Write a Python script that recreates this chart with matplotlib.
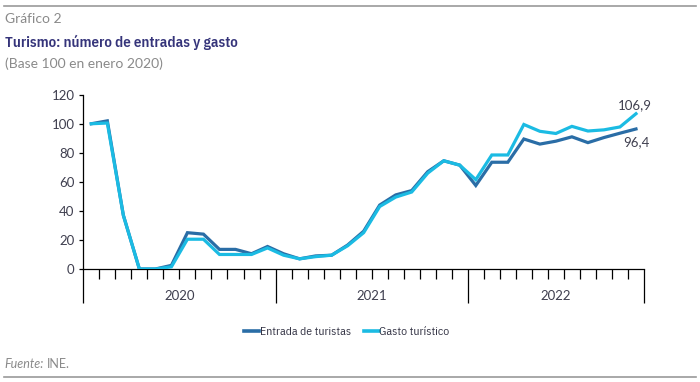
import matplotlib
matplotlib.use("Agg")
import matplotlib.pyplot as plt
from matplotlib.lines import Line2D
import numpy as np

# ---- data ----
years = ["2020", "2021", "2022"]
months_per_year = [12, 12, 11]
entradas = [100, 102, 37, 0, 0, 2.5, 25, 24, 13.5, 13.5, 10.5, 15.5,
            10.5, 7, 9, 9.5, 16.5, 26, 44, 51, 54, 67, 74.5, 71.5,
            57.5, 73.5, 73.5, 89.5, 86, 88, 91, 87, 90.5, 93.5, 96.4]
gasto = [100, 100.5, 37, 0, 0, 1.5, 20.5, 20.5, 10, 10, 10, 14.5,
         9.5, 7, 8.5, 9.5, 16, 25, 43, 49.5, 53, 66, 74.5, 71.5,
         61.5, 78.5, 78.5, 99.5, 94.8, 93.3, 98.2, 95, 95.8, 97.8, 106.9]
series_names = ["Entrada de turistas", "Gasto turístico"]
last_labels = ["96,4", "106,9"]
yticks = [0, 20, 40, 60, 80, 100, 120]

DARK = "#2a6da6"
LIGHT = "#1bbbe3"
TXT = "#3f3f4f"
GRAY = "#8a8a8a"
COND = ["IBM Plex Sans Condensed", "DejaVu Sans"]
BASE = ["Lato", "DejaVu Sans"]

fig = plt.figure(figsize=(7, 3.82), dpi=100)
W, H = 700, 382
ax = fig.add_axes([83.3 / W, 1 - 269 / H, (644 - 83.3) / W, (269 - 94.7) / H])

n = len(entradas)
x = np.arange(n) + 0.5
ax.plot(x, entradas, color=DARK, lw=2.3, solid_joinstyle="miter", zorder=3)
ax.plot(x, gasto, color=LIGHT, lw=2.3, solid_joinstyle="miter", zorder=4)

ax.set_xlim(0, n)
ax.set_ylim(0, 120)
ax.set_yticks(yticks)
ax.set_yticklabels([str(v) for v in yticks], fontsize=9.5, color=TXT, family=BASE)
ax.tick_params(axis="y", direction="out", length=3.2, width=0.9, color="black", pad=3)

bounds = np.concatenate([[0], np.cumsum(months_per_year)])
ax.set_xticks(bounds)
ax.set_xticklabels([])
ax.set_xticks(np.arange(0, n + 1), minor=True)
ax.tick_params(axis="x", which="major", direction="out", length=24.5, width=0.9, color="black")
ax.tick_params(axis="x", which="minor", direction="out", length=7.2, width=0.9, color="black")

for s in ["top", "right"]:
    ax.spines[s].set_visible(False)
for s in ["left", "bottom"]:
    ax.spines[s].set_linewidth(0.9)

# year labels
for i, yr in enumerate(years):
    cx = (bounds[i] + bounds[i + 1]) / 2
    ax.annotate(yr, xy=(cx, 0), xycoords=("data", "axes fraction"),
                xytext=(0, -27.5), textcoords="offset pixels",
                ha="center", va="center", fontsize=9.5, color=TXT, family=BASE)

# end labels
ax.annotate(last_labels[1], xy=(x[-1], gasto[-1]), xytext=(-1, 9),
            textcoords="offset pixels", ha="center", va="center",
            fontsize=9.5, color=TXT, family=BASE)
ax.annotate(last_labels[0], xy=(x[-1], entradas[-1]), xytext=(0, -13),
            textcoords="offset pixels", ha="center", va="center",
            fontsize=9.5, color=TXT, family=BASE)

# legend
handles = [Line2D([], [], color=DARK, lw=2.6), Line2D([], [], color=LIGHT, lw=2.6)]
fig.legend(handles, series_names, loc="center", bbox_to_anchor=(347 / W, 1 - 332 / H),
           ncol=2, frameon=False, handlelength=1.25, handletextpad=0.05,
           columnspacing=1.1, prop={"family": COND, "size": 8.5},
           labelcolor="#333344")

# header / footer
fig.add_artist(Line2D([4 / W, 696 / W], [1 - 6 / H, 1 - 6 / H], color="#9a9a9a", lw=1.2))
fig.add_artist(Line2D([4 / W, 696 / W], [1 - 376.5 / H, 1 - 376.5 / H], color="#9a9a9a", lw=1.2))
fig.text(5 / W, 1 - 23 / H, "Gráfico 2", fontsize=10, color=GRAY, va="baseline", family=BASE)
fig.text(5 / W, 1 - 47.5 / H, "Turismo: número de entradas y gasto", fontsize=10.8,
         fontweight="semibold", color="#35347a", va="baseline", family=COND)
fig.text(5 / W, 1 - 68 / H, "(Base 100 en enero 2020)", fontsize=10, color=GRAY,
         va="baseline", family=BASE)
t = fig.text(4 / W, 1 - 364 / H, "Fuente:", fontsize=9, color=GRAY, style="italic",
             va="center", family=BASE)
ax.annotate("INE.", xy=(1, 0.5), xycoords=t, xytext=(3, 0), textcoords="offset pixels",
            ha="left", va="center", fontsize=9, color=GRAY, family=BASE,
            annotation_clip=False)

fig.savefig("out.png", dpi=100)
